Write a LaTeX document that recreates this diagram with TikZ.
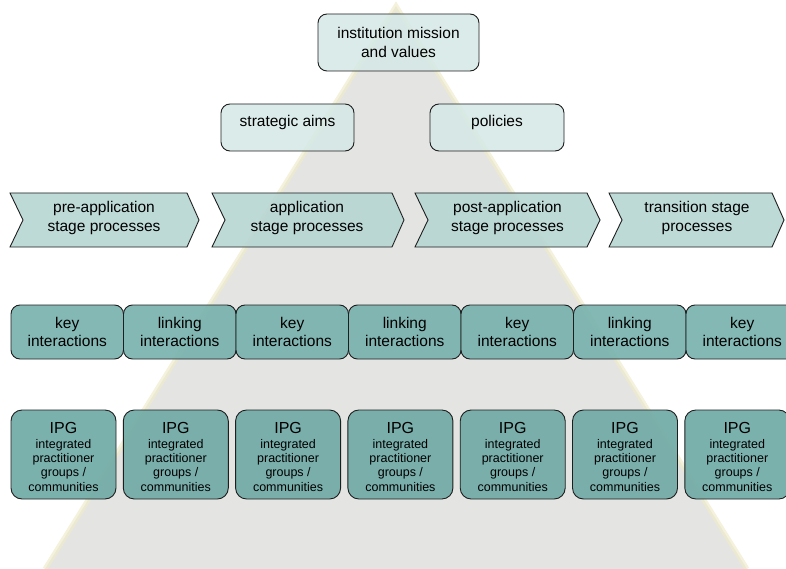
\documentclass[tikz,border=0pt]{standalone}
\usepackage{fontspec}
\setmainfont{Liberation Sans}
\definecolor{topfill}{RGB}{214,232,230}
\definecolor{chevfill}{RGB}{183,214,211}
\definecolor{keyfill}{RGB}{121,178,174}
\definecolor{ipgfill}{RGB}{112,170,166}
\definecolor{pyrfill}{RGB}{228,228,226}
\definecolor{pyredge}{RGB}{240,236,205}
\definecolor{edgecol}{RGB}{30,30,30}
\begin{document}
\begin{tikzpicture}[x=1pt,y=-1pt,
  mainfont/.style={font=\fontsize{15.5}{18.5}\selectfont},
  topbox/.style={draw=edgecol, line width=0.9pt, rounded corners=9pt, fill=topfill, fill opacity=0.88, text opacity=1, align=center, inner sep=0pt, mainfont},
  chevshape/.style={draw=edgecol, line width=0.9pt, fill=chevfill, fill opacity=0.9},
  chevtext/.style={align=center, inner sep=0pt, mainfont},
  keybox/.style={draw=edgecol, line width=0.9pt, rounded corners=9pt, fill=keyfill, fill opacity=0.92, text opacity=1, align=center, inner sep=0pt, minimum width=112.5pt, minimum height=54pt, mainfont},
  ipgbox/.style={draw=edgecol, line width=0.9pt, rounded corners=11pt, fill=ipgfill, fill opacity=0.92, minimum width=105pt, minimum height=89pt, inner sep=0pt},
  ipgtext/.style={align=center, inner sep=0pt, anchor=north, font=\fontsize{12.5}{14.3}\selectfont}
]
\useasboundingbox (0,0) rectangle (786,569);
\clip (0,0) rectangle (786,569);
% background pyramid
\fill[pyrfill] (396,6) -- (747,569) -- (45,569) -- cycle;
\draw[pyredge, line width=5pt, opacity=0.7] (45,569) -- (396,6) -- (747,569);
% top boxes
\node[topbox, minimum width=161pt, minimum height=57pt] (mission) at (398.5,42.5) {institution mission\\and values};
\node[topbox, minimum width=133pt, minimum height=47pt, text height=11.2pt, text depth=14pt] (aims) at (287.5,127.5) {strategic aims};
\node[topbox, minimum width=134pt, minimum height=47pt, text height=11.2pt, text depth=14pt] (policies) at (497,127.5) {policies};
% chevrons
\draw[chevshape] (10,193) -- (187,193) -- (199,220) -- (187,247) -- (10,247) -- (23,220) -- cycle;
\draw[chevshape] (212,193) -- (392,193) -- (404,220) -- (392,247) -- (212,247) -- (225,220) -- cycle;
\draw[chevshape] (415,193) -- (587,193) -- (600,220) -- (587,247) -- (415,247) -- (428,220) -- cycle;
\draw[chevshape] (609,193) -- (772,193) -- (784,220) -- (772,247) -- (609,247) -- (622,220) -- cycle;
\node[chevtext] (c1) at (104,218) {pre-application\\stage processes};
\node[chevtext] (c2) at (307,218) {application\\stage processes};
\node[chevtext] (c3) at (507.5,218) {post-application\\stage processes};
\node[chevtext] (c4) at (697,218) {transition stage\\processes};
% key / linking interactions
\node[keybox] (k1) at (67.25,332) {key\\interactions};
\node[keybox] (k2) at (179.75,332) {linking\\interactions};
\node[keybox] (k3) at (292.25,332) {key\\interactions};
\node[keybox] (k4) at (404.75,332) {linking\\interactions};
\node[keybox] (k5) at (517.25,332) {key\\interactions};
\node[keybox] (k6) at (629.75,332) {linking\\interactions};
\node[keybox] (k7) at (742.25,332) {key\\interactions};
% IPG boxes
\foreach \i/\x in {1/63.5,2/175.8,3/288.1,4/400.4,5/512.7,6/625.0,7/737.3}{
  \node[ipgbox] (ipg\i) at (\x,454.5) {};
  \node[ipgtext] (ipgt\i) at ([yshift=-13pt]ipg\i.north) {{\fontsize{16}{14.3}\selectfont IPG}\\integrated\\practitioner\\groups /\\communities};
}
\end{tikzpicture}
\end{document}
